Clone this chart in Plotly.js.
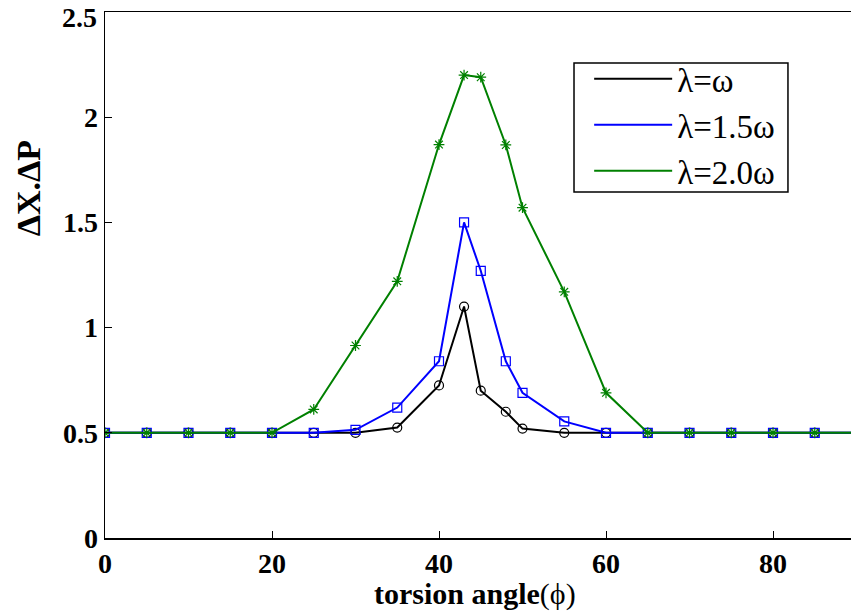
<!DOCTYPE html>
<html>
<head>
<meta charset="utf-8">
<script src="https://cdn.plot.ly/plotly-3.0.1.min.js"></script>
<style>html,body{margin:0;padding:0;background:#fff;}#chart{width:851px;height:612px;}</style>
</head>
<body>
<div id="chart"></div>
<script>
const angles = [0, 5, 10, 15, 20, 25, 30, 35, 40, 43, 45, 48, 50, 55, 60, 65, 70, 75, 80, 85, 90];
const seriesNames = ['λ=ω', 'λ=1.5ω', 'λ=2.0ω'];
const lambda1 = [0.5, 0.5, 0.5, 0.5, 0.5, 0.5, 0.5, 0.525, 0.725, 1.1, 0.70, 0.60, 0.52, 0.50, 0.5, 0.5, 0.5, 0.5, 0.5, 0.5, 0.5];
const lambda15 = [0.5, 0.5, 0.5, 0.5, 0.5, 0.5, 0.514, 0.62, 0.84, 1.5, 1.27, 0.84, 0.69, 0.554, 0.5, 0.5, 0.5, 0.5, 0.5, 0.5, 0.5];
const lambda2 = [0.5, 0.5, 0.5, 0.5, 0.5, 0.611, 0.915, 1.22, 1.87, 2.2, 2.19, 1.868, 1.57, 1.17, 0.69, 0.5, 0.5, 0.5, 0.5, 0.5, 0.5];
const xTicks = [0, 20, 40, 60, 80];
const yTicks = [0, 0.5, 1, 1.5, 2, 2.5];
const yTickLabels = ['0', '0.5', '1', '1.5', '2', '2.5'];
const xTitle = '<b>torsion angle</b>(ϕ)';
const yTitle = '<b>ΔX.ΔP</b>';

const colors = ['#000000', '#0000ff', '#008000'];
const symbols = ['circle-open', 'square-open', 'asterisk-open'];
const allSeries = [lambda1, lambda15, lambda2];

const traces = [];
allSeries.forEach((ys, i) => {
  traces.push({
    x: angles, y: ys, type: 'scatter', mode: 'lines+markers',
    name: seriesNames[i], legendgroup: 'g' + i, showlegend: false,
    line: {color: colors[i], width: 2},
    marker: {symbol: symbols[i], size: 9, color: colors[i], line: {width: 1.2, color: colors[i]}}
  });
});
allSeries.forEach((ys, i) => {
  traces.push({
    x: [null], y: [null], type: 'scatter', mode: 'lines',
    name: seriesNames[i], legendgroup: 'g' + i, showlegend: true,
    line: {color: colors[i], width: 2}
  });
});

const font = {family: 'Liberation Serif, Times New Roman, serif', color: '#000'};
const lastIdx = yTicks.length - 1;

const layout = {
  width: 851, height: 612,
  margin: {l: 105, r: 0, t: 12, b: 74},
  paper_bgcolor: '#fff', plot_bgcolor: '#fff',
  showlegend: true,
  legend: {
    x: 0.649, y: 0.926, xanchor: 'left', yanchor: 'top',
    bgcolor: 'rgba(0,0,0,0)', borderwidth: 0,
    font: Object.assign({}, font, {size: 33}),
    traceorder: 'grouped', tracegroupgap: 0,
    itemwidth: 78
  },
  shapes: [{
    type: 'rect', xref: 'paper', yref: 'paper',
    x0: 0.6287, x1: 0.9155, y0: 0.6578, y1: 0.9030,
    line: {color: '#000', width: 1.5}, fillcolor: '#fff', layer: 'below'
  }],
  annotations: [
    {xref: 'paper', yref: 'y', x: 0, y: yTicks[lastIdx], xanchor: 'right', yanchor: 'middle',
     xshift: -6, yshift: -5, text: yTickLabels[lastIdx], showarrow: false,
     font: Object.assign({}, font, {size: 28, weight: 'bold'})},
    {xref: 'paper', yref: 'paper', x: -0.103, y: 0.665, xanchor: 'center', yanchor: 'middle',
     textangle: -90, text: yTitle, showarrow: false,
     font: Object.assign({}, font, {size: 34})},
    {xref: 'paper', yref: 'paper', x: 0.4958, y: -0.1407, xanchor: 'center', yanchor: 'bottom',
     text: xTitle, showarrow: false, borderpad: 0,
     font: Object.assign({}, font, {size: 30})}
  ],
  xaxis: {
    range: [0, 89.34],
    tickvals: xTicks, ticktext: xTicks.map(String),
    ticks: 'inside', ticklen: 7, tickwidth: 1, tickcolor: '#000',
    showline: true, linecolor: '#000', linewidth: 1.5, mirror: true,
    showgrid: false, zeroline: false,
    tickfont: Object.assign({}, font, {size: 28, weight: 'bold'})
  },
  yaxis: {
    range: [0, 2.5],
    tickvals: yTicks, ticktext: yTickLabels.map((t, i) => i === lastIdx ? '' : t),
    ticks: 'inside', ticklen: 7, tickwidth: 1, tickcolor: '#000',
    showline: true, linecolor: '#000', linewidth: 1.5, mirror: true,
    showgrid: false, zeroline: false,
    tickfont: Object.assign({}, font, {size: 28, weight: 'bold'})
  }
};

Plotly.newPlot('chart', traces, layout, {displayModeBar: false, staticPlot: true});
</script>
</body>
</html>
